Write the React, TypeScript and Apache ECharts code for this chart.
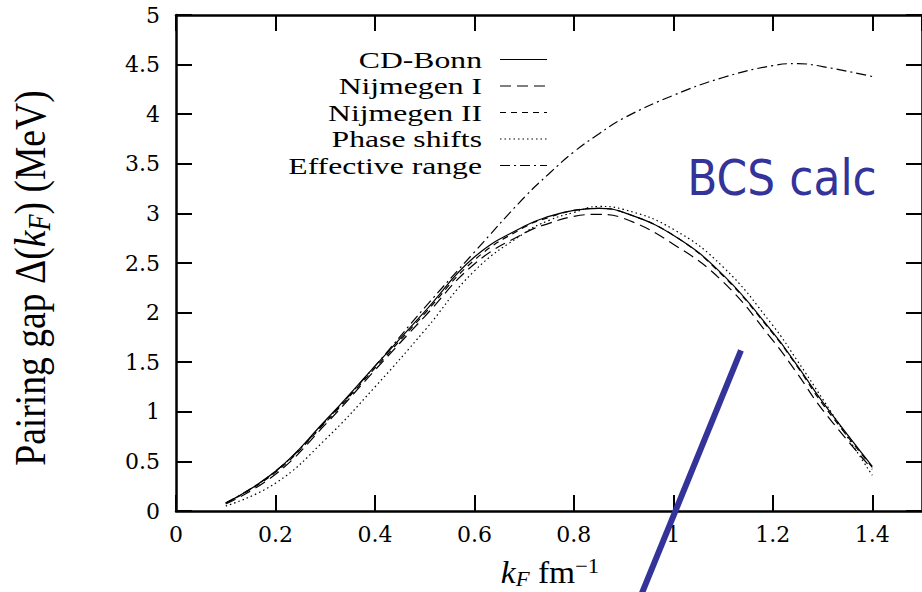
import { useEffect, useRef } from "react";
import * as echarts from "echarts";

const kF = [0.1, 0.2, 0.3, 0.4, 0.5, 0.6, 0.7, 0.75, 0.8, 0.85, 0.9, 1.0, 1.1, 1.2, 1.25, 1.3, 1.4];
const cdBonn = [0.08, 0.4, 0.91, 1.46, 2.01, 2.56, 2.87, 2.97, 3.03, 3.05, 3.01, 2.78, 2.38, 1.8, 1.46, 1.1, 0.45];
const nijmegenI = [0.07, 0.37, 0.87, 1.42, 1.96, 2.49, 2.8, 2.9, 2.97, 2.99, 2.95, 2.69, 2.31, 1.72, 1.38, 1.02, 0.42];
const nijmegenII = [0.08, 0.39, 0.89, 1.44, 1.99, 2.53, 2.86, 2.96, 3.03, 3.05, 3.01, 2.78, 2.37, 1.79, 1.45, 1.08, 0.44];
const phaseShifts = [0.05, 0.28, 0.72, 1.25, 1.82, 2.42, 2.8, 2.93, 3.01, 3.07, 3.04, 2.84, 2.46, 1.87, 1.51, 1.13, 0.36];
const effectiveRange = [0.08, 0.4, 0.9, 1.46, 2.05, 2.61, 3.16, 3.4, 3.62, 3.8, 3.96, 4.19, 4.37, 4.49, 4.51, 4.48, 4.38];

const bcsLineX = [1.136, 0.931];
const bcsLineY = [1.62, -0.9];

const seriesNames = ["CD-Bonn", "Nijmegen I", "Nijmegen II", "Phase shifts", "Effective range"];
const seriesValues = [cdBonn, nijmegenI, nijmegenII, phaseShifts, effectiveRange];
const seriesDash: (string | number[])[] = ["solid", [11, 6], [6, 5], [1.5, 3], [10, 4, 2, 4]];

const TICKFONT = "DejaVu Serif";
const SERIF = "Liberation Serif";
const BLUE = "#333399";

export default function App() {
  const ref = useRef<HTMLDivElement>(null);
  useEffect(() => {
    if (!ref.current) return;
    const chart = echarts.init(ref.current, null, { renderer: "svg" });
    const axisLine = { show: true, onZero: false, lineStyle: { color: "#000", width: 2.5 } };
    const axisTick = { show: true, inside: true, length: 16, lineStyle: { color: "#000", width: 2 } };
    const labelStyle = { fontFamily: TICKFONT, fontSize: 22, color: "#000" };
    const curves = seriesNames.map((name, i) => ({
      name,
      type: "line",
      smooth: 0.45,
      symbol: "none",
      xAxisIndex: 0,
      yAxisIndex: 0,
      data: kF.map((x, j) => [x, seriesValues[i][j]]),
      lineStyle: { color: "#000", width: 1.2, type: seriesDash[i] },
      itemStyle: { color: "#000" },
      z: 3,
    }));
    const legendGraphics = seriesNames.flatMap((name, i) => {
      const cy = 59.5 + i * 26.5;
      const dash = seriesDash[i];
      return [
        {
          type: "text",
          x: 482,
          y: cy,
          scaleX: 1.32,
          style: {
            text: name,
            fontFamily: SERIF,
            fontSize: 24,
            fill: "#000",
            align: "right",
            verticalAlign: "middle",
          },
        },
        {
          type: "line",
          shape: { x1: 500, y1: cy, x2: 547, y2: cy },
          style: {
            stroke: "#000",
            lineWidth: 1.2,
            lineDash: Array.isArray(dash) ? dash : null,
          },
        },
      ];
    });
    chart.setOption({
      animation: false,
      backgroundColor: "#fff",
      grid: { left: 176, right: -5.5, top: 15, bottom: 81 },
      xAxis: [
        {
          type: "value", min: 0, max: 1.5, interval: 0.2, position: "bottom",
          axisLine, axisTick,
          axisLabel: { ...labelStyle, margin: 12, showMaxLabel: false },
          splitLine: { show: false },
        },
        {
          type: "value", min: 0, max: 1.5, interval: 0.2, position: "top",
          axisLine, axisTick,
          axisLabel: { show: false },
          splitLine: { show: false },
        },
      ],
      yAxis: [
        {
          type: "value", min: 0, max: 5, interval: 0.5, position: "left",
          axisLine, axisTick,
          axisLabel: { ...labelStyle, margin: 16 },
          splitLine: { show: false },
        },
        {
          type: "value", min: 0, max: 5, interval: 0.5, position: "right",
          axisLine, axisTick,
          axisLabel: { show: false },
          splitLine: { show: false },
        },
      ],
      series: [
        ...curves,
        {
          name: "BCS",
          type: "line",
          symbol: "none",
          clip: false,
          data: bcsLineX.map((x, j) => [x, bcsLineY[j]]),
          lineStyle: { color: BLUE, width: 6 },
          z: 4,
        },
      ],
      graphic: [
        ...legendGraphics,
        {
          type: "text",
          x: 30,
          y: 278,
          rotation: Math.PI / 2,
          scaleX: 1.14,
          scaleY: 1.37,
          style: {
            text: "Pairing gap Δ({i|k}{sub|F}) (MeV)",
            fontFamily: SERIF,
            fontSize: 33,
            lineHeight: 36,
            fill: "#000",
            align: "center",
            verticalAlign: "middle",
            rich: {
              i: { fontFamily: SERIF, fontSize: 33, fontStyle: "italic", lineHeight: 36 },
              sub: { fontFamily: SERIF, fontSize: 23, fontStyle: "italic", lineHeight: 23, verticalAlign: "bottom" },
            },
          },
        },
        {
          type: "text",
          x: 550,
          y: 572.5,
          scaleX: 1.08,
          style: {
            text: "{i|k}{sub|F} fm{sup|−1}",
            fontFamily: SERIF,
            fontSize: 31,
            lineHeight: 34,
            fill: "#000",
            align: "center",
            verticalAlign: "middle",
            rich: {
              i: { fontFamily: SERIF, fontSize: 31, fontStyle: "italic", lineHeight: 34 },
              sub: { fontFamily: SERIF, fontSize: 21, fontStyle: "italic", lineHeight: 21, verticalAlign: "bottom" },
              sup: { fontFamily: SERIF, fontSize: 21, lineHeight: 21, verticalAlign: "top" },
            },
          },
        },
        {
          type: "text",
          x: 782,
          y: 177,
          scaleY: 1.15,
          style: {
            text: "BCS calc",
            fontFamily: "DejaVu Sans",
            fontSize: 44,
            fill: BLUE,
            align: "center",
            verticalAlign: "middle",
          },
        },
      ],
    });
    return () => chart.dispose();
  }, []);
  return (
    <div style={{ position: "fixed", left: 0, top: 0, width: 922, height: 592, overflow: "hidden", background: "#fff" }}>
      <div ref={ref} style={{ width: 922, height: 592 }} />
    </div>
  );
}
